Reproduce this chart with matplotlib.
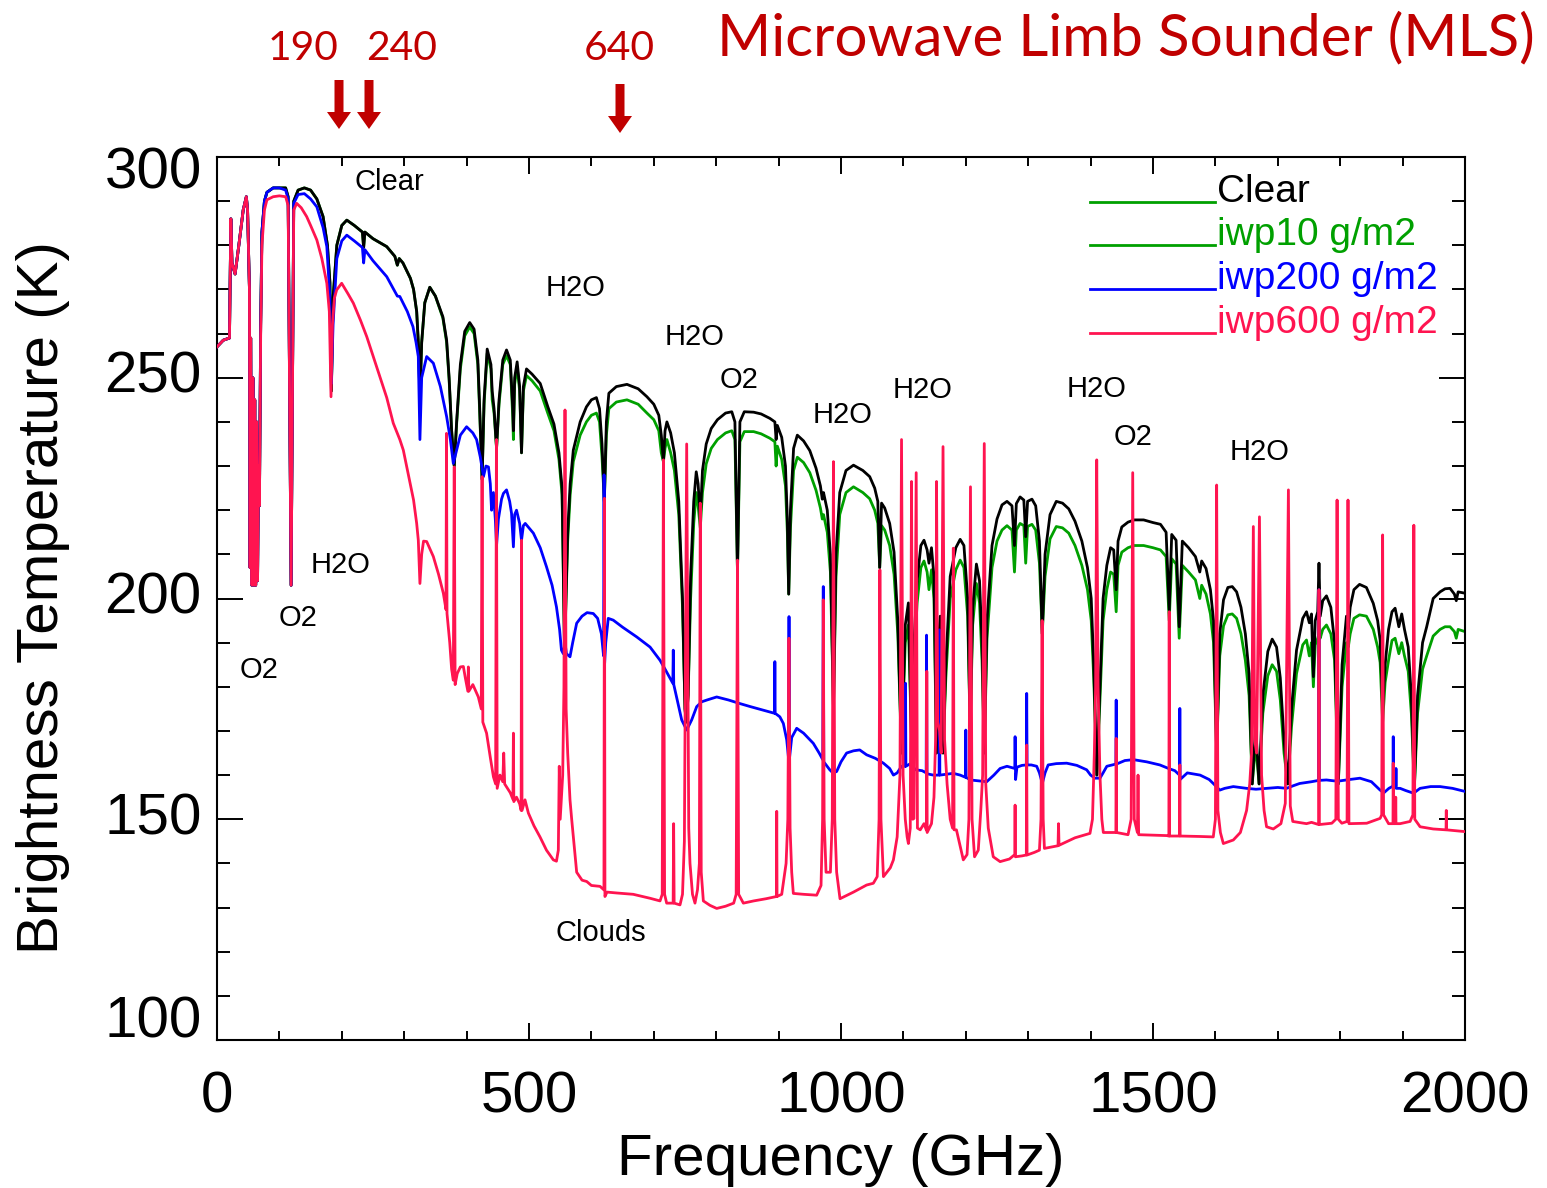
import matplotlib
matplotlib.use("Agg")
import matplotlib.pyplot as plt
from matplotlib.patches import FancyArrow
from matplotlib.transforms import IdentityTransform
from matplotlib.ticker import MultipleLocator

plt.rcParams['font.family'] = ['Liberation Sans', 'DejaVu Sans']

# ---------------- data ----------------
f_clear = [
    0, 10, 20, 22.2, 24, 29, 35, 42, 47, 49,
    52, 53, 54, 56, 57.5, 59, 60.5, 62, 63.5, 65,
    66.5, 68, 70, 72, 76, 80, 90, 100, 110, 114,
    118.75, 123, 130, 140, 150, 160, 170, 177, 181, 183.3,
    186, 192, 200, 208, 220, 233, 235, 237, 250, 272,
    285, 289, 292, 298, 310, 315, 320, 323, 325.2, 328,
    333, 341, 350, 362, 368, 372, 376, 380.2, 384, 390,
    397, 405, 412, 418, 421, 424.8, 428, 433, 439, 441,
    444, 448, 452, 458, 464, 470, 474, 475, 477, 481,
    485, 488, 491, 496, 505, 518, 530, 540, 548, 553,
    557, 562, 566, 571, 582, 592, 600, 608, 613, 617,
    620.7, 624, 628, 640, 657, 675, 689, 700, 708, 712,
    715.4, 718, 721, 727, 733, 740, 746, 750, 752, 755,
    759, 764, 768, 771, 774.5, 778, 784, 792, 802, 815,
    825, 830, 834.1, 838, 845, 860, 872, 886, 894, 896,
    898, 905, 911, 914, 916.2, 919, 924, 930, 940, 950,
    960, 967, 970, 972, 978, 983, 987.9, 992, 998, 1008,
    1020, 1035, 1046, 1054, 1059, 1062, 1065, 1070, 1078, 1085,
    1091, 1097, 1103, 1108, 1113, 1117, 1122, 1128, 1133, 1138,
    1141, 1145, 1149, 1153, 1156, 1159, 1161, 1163.5, 1168, 1175,
    1184, 1191, 1197, 1203, 1207, 1211, 1217, 1222, 1226, 1229.6,
    1234, 1242, 1250, 1258, 1266, 1274, 1278, 1281, 1287, 1293,
    1296, 1299, 1306, 1312, 1318, 1322.5, 1327, 1335, 1345, 1355,
    1365, 1375, 1386, 1395, 1401, 1405, 1410, 1415, 1420, 1426,
    1432, 1437, 1441, 1444, 1450, 1460, 1470, 1485, 1500, 1512,
    1521, 1526, 1530, 1537, 1542, 1547, 1557, 1568, 1575, 1578,
    1585, 1592, 1597, 1602, 1607, 1613, 1620, 1627, 1634, 1641,
    1648, 1654, 1659, 1664.5, 1670, 1676, 1684, 1691, 1698, 1704,
    1710, 1716, 1722, 1730, 1740, 1746, 1750.5, 1754, 1757, 1760,
    1764, 1766, 1768, 1772, 1778, 1785, 1791, 1797, 1803, 1810,
    1813, 1816, 1822, 1831, 1842, 1853, 1860, 1864, 1868, 1872,
    1877.5, 1883, 1888, 1894, 1898.6, 1903, 1909, 1914, 1918.8, 1924,
    1932, 1938.6, 1949, 1960, 1968, 1976, 1983, 1986, 1989, 2000,
]
t_clear = [
    257, 258.5, 259, 286, 276, 273.5, 280, 288, 291, 288,
    270, 207, 259, 203, 250, 203, 245, 203, 240, 204,
    230, 221, 262, 283, 290, 292, 293, 293, 293, 291,
    203, 290, 292.5, 293, 292.5, 290.5, 286.5, 280, 271.5, 247,
    268, 280, 284.5, 285.7, 284.5, 283, 279.5, 283, 281.5, 279.7,
    277.5, 275.5, 277, 276, 272.5, 270, 265, 257, 245, 258,
    267, 270.5, 268.5, 263.8, 258.5, 250, 238, 230, 240, 253,
    260.5, 262.5, 261, 254, 243, 227, 245, 256.5, 253, 247,
    243, 234, 245, 254, 256.3, 254, 243, 238, 250, 253.6,
    248, 233, 248, 252, 250.8, 248.7, 243.5, 239.5, 233, 225,
    188, 215, 226, 233.6, 240, 243.4, 245, 245.5, 243, 235,
    222, 240, 246.5, 248, 248.5, 247.5, 245.7, 244, 241.5, 237,
    231, 238, 240, 237.5, 233, 222, 200, 175, 172, 178,
    205, 222, 228.7, 226, 218, 229, 235, 238.5, 240.5, 242,
    242.3, 240, 206, 240, 242.3, 242.2, 241.8, 240.8, 240, 236,
    239.2, 236.5, 230, 218, 201, 220, 234, 237, 235.7, 233.5,
    229.5, 225.5, 222.5, 224, 220, 210, 175, 210, 224, 229,
    230.2, 229, 227.6, 225, 222, 207, 221.6, 220.5, 217, 210.5,
    195, 165, 194, 199, 168, 190, 204, 212, 213.2, 211,
    208, 211.5, 205, 165, 190, 196, 190, 165, 185, 205,
    211.5, 213.4, 212, 200, 170, 198, 207.8, 204, 190, 165,
    195, 212, 218, 221.2, 222, 221, 212, 221.5, 223, 222.3,
    214, 222, 222.5, 221, 213, 192, 210, 219, 222, 221.6,
    220.3, 217.5, 213, 207, 200, 185, 160, 180, 200, 207.5,
    211.5, 211, 202, 213, 216.2, 217.3, 217.8, 217.8, 217.2, 216.8,
    215, 197.4, 214.5, 213.2, 193.6, 213, 211.5, 209.5, 206, 208.5,
    206.8, 202, 195, 165, 192, 199.7, 202.5, 202.7, 201.5, 198,
    192, 183, 158, 171, 158, 178, 188, 190.8, 189, 182,
    168, 158, 175, 188.3, 195.5, 197, 194.5, 196.5, 182.3, 195,
    197, 208, 196, 199.5, 200.6, 198, 190, 158, 185, 196,
    193, 198, 202, 203.2, 202.5, 198.9, 195, 190.6, 175, 185,
    193, 197, 197.8, 193.6, 196.5, 193, 189, 178, 157, 178,
    190, 193.6, 200, 201.5, 202.2, 202.3, 201, 199.5, 201.5, 201.2,
]
t_iwp10 = [
    257, 258.5, 259, 286, 276, 273.5, 280, 288, 291, 288,
    270, 207, 259, 203, 250, 203, 245, 203, 240, 204,
    230, 221, 262, 283, 290, 292, 293, 293, 293, 291,
    203, 290, 292.5, 293, 292.5, 290.5, 286.5, 280, 271.5, 247,
    268, 280, 284.5, 285.7, 284.5, 283, 279.5, 283, 281.5, 279.7,
    277.5, 275.5, 277, 276, 272.5, 270, 265, 257, 245, 258,
    267, 270.5, 268.5, 263.5, 258, 249.5, 238, 230, 239.5, 252,
    259.5, 261.5, 260, 253, 242, 227, 244, 255.5, 252, 245,
    242, 234, 244, 253, 255, 253, 241, 236, 248.5, 252.5,
    247, 233, 247, 250.5, 249.3, 247, 242, 238, 231.5, 223.5,
    188, 213, 223.5, 231, 237, 240, 241.5, 242, 240, 232,
    222, 237, 243, 244.5, 245, 244, 242, 240.5, 238, 233,
    231, 234, 236, 233, 229, 219, 198, 175, 172, 178,
    200, 217, 224, 221, 216, 224, 230.5, 234, 236, 237.5,
    238, 236, 206, 235.5, 237.8, 237.8, 237.3, 236.3, 235.5, 230,
    234.5, 231.5, 225.5, 215, 201, 216, 229, 232, 230.8, 228.5,
    224.5, 220.5, 218, 219, 215, 206, 175, 205, 219, 224,
    225.3, 224, 222.6, 220, 217, 207, 216.5, 215.5, 212, 205.5,
    192, 165, 190, 194, 168, 186, 199, 207, 208.5, 206,
    202, 206.5, 200, 165, 187, 192, 187, 165, 182, 200,
    206.5, 208.7, 207, 196, 170, 194, 203.4, 199, 186, 165,
    191, 207, 213, 215.5, 216.5, 215.5, 206, 215.5, 217, 216.5,
    208, 216.3, 216.8, 215.5, 208, 192, 205, 213.5, 216.3, 216,
    214.8, 212, 207.5, 202, 195, 182, 160, 177, 195, 202,
    206, 205.5, 197, 207.5, 210.5, 211.5, 212, 212, 211.5, 211,
    209.5, 195, 209, 207.8, 191, 207.5, 206, 204.2, 200, 203,
    201, 196.5, 190, 165, 187, 193.8, 196.3, 196.5, 195.5, 192,
    186, 178, 158, 167, 158, 174, 182.5, 185, 183.5, 177,
    165, 158, 171, 183, 189.5, 190.6, 187, 190, 180, 189.5,
    191, 192, 191, 193, 194, 192, 186, 158, 180, 190,
    189, 192, 195.5, 196.3, 196, 193, 189, 185.5, 172, 181,
    186, 190.5, 191, 187.5, 190, 187, 183.5, 174, 157, 174,
    184, 187, 191.5, 193, 193.6, 193.6, 192.5, 191, 193, 192.5,
]

f_iwp200 = [
    0, 10, 20, 22.2, 24, 29, 35, 42, 47, 49,
    52, 53, 54, 56, 57.5, 59, 60.5, 62, 63.5, 65,
    66.5, 68, 70, 72, 76, 80, 90, 100, 110, 114,
    118.75, 123, 130, 140, 150, 160, 170, 176, 181, 183.3,
    186, 192, 200, 208, 220, 233, 235, 237, 250, 272,
    289, 293, 305, 314, 319, 322.6, 325.2, 328, 336, 346.7,
    358, 368, 374, 378.7, 383, 390, 400, 410, 416, 422,
    427, 431, 435, 438, 440, 443, 446, 448, 451, 456,
    459, 464, 469, 472, 475, 477, 480, 485, 488, 491,
    494, 500, 507, 518, 528, 537, 544, 549, 552, 555,
    557.7, 560, 565.7, 570, 576.4, 585, 593, 603, 610, 616,
    619.5, 620.3, 621.2, 623, 627, 635, 650, 672.6, 694, 710,
    720, 730.5, 731.2, 732, 740, 744.7, 752.7, 760.7, 768.7, 776.7,
    785, 800.8, 820, 838, 855, 875.5, 893.5, 894, 894.5, 902,
    907.6, 913, 915.8, 916.7, 917.6, 921, 929, 940, 955.6, 965,
    970.8, 971.6, 972.4, 982, 987, 993, 1000, 1009, 1020, 1030,
    1041, 1055, 1068, 1078, 1084, 1090, 1097, 1102.8, 1103.4, 1104,
    1110, 1120, 1130, 1136.5, 1137.1, 1137.7, 1148, 1157.2, 1157.8, 1158.4,
    1169, 1180, 1191, 1199.5, 1200, 1200.5, 1207, 1220, 1233.5, 1245,
    1255, 1266, 1278.5, 1279, 1279.8, 1282, 1290, 1297, 1297.6, 1298.2,
    1305, 1313.6, 1318, 1322.6, 1327, 1332, 1345, 1361.7, 1378, 1393.7,
    1400, 1407, 1415, 1420, 1426, 1440.5, 1441, 1441.5, 1455, 1468.6,
    1490, 1511, 1525, 1535, 1542.5, 1543, 1543.5, 1555, 1575.5, 1590,
    1596.6, 1607, 1615, 1628.7, 1650, 1665, 1682, 1700, 1714, 1725,
    1735, 1754, 1765.5, 1766, 1766.5, 1778, 1790, 1800, 1815, 1831.7,
    1850, 1864, 1870, 1878, 1884.6, 1885, 1885.4, 1889, 1889.4, 1889.8,
    1896, 1905, 1917.5, 1928, 1945, 1960, 1980, 2000,
]
t_iwp200 = [
    257, 258.5, 259, 286, 276, 273.5, 280, 288, 291, 288,
    270, 207, 259, 203, 250, 203, 245, 203, 240, 204,
    230, 221, 262, 283, 290, 292, 293, 293, 292.5, 290.5,
    203, 289.5, 291.5, 291.7, 290.5, 288.7, 284, 279.7, 268, 248.7,
    262, 277, 281, 282.3, 281, 279.5, 276, 279, 276.5, 272.9,
    268.5, 268.4, 265, 261.6, 258, 254.8, 236, 250, 254.8, 253.3,
    248, 241.2, 236, 230.6, 233, 237, 238.9, 237.5, 236, 232,
    227.6, 230, 229.8, 226, 220, 224, 218, 212, 218, 222.5,
    223.8, 224.6, 222, 219.3, 211.7, 219, 220, 217, 213.2, 216.5,
    217, 216, 214.8, 211.5, 207.2, 203, 198.1, 193, 188.3, 187.5,
    190, 187.5, 186.8, 190, 194.4, 196, 196.8, 196.6, 195.5, 192,
    187, 228, 185.3, 190, 195.5, 195.1, 193.5, 191.3, 189, 186,
    183.5, 180.8, 188.3, 180.5, 175.5, 172.5, 170.2, 172.5, 175.5, 176.6,
    177, 177.7, 177, 176.2, 175.5, 174.7, 174, 185.7, 174, 173.2,
    171.7, 168, 164, 195.9, 164, 168.5, 170.6, 169.5, 167.2, 165,
    163.5, 202.7, 163, 161.2, 160.5, 160.8, 163, 165, 165.5, 165.7,
    164.6, 163.8, 162.7, 161.5, 160, 160.5, 162, 162, 180.8, 162,
    162.5, 161.2, 161, 160.5, 191.7, 160.3, 160, 160, 192.9, 160,
    160.2, 160.4, 160, 159.5, 170.2, 159.5, 158.9, 158.7, 158.5, 160,
    161.5, 162, 161.5, 168.7, 159, 161.8, 162.2, 162.3, 178.5, 162.3,
    162.3, 162, 160.5, 158.1, 160.5, 162.3, 162.6, 162.7, 162.2, 161.2,
    160, 159.3, 159.3, 160.5, 162, 162.5, 177, 162.5, 163.3, 163.5,
    163, 162.3, 161.5, 161, 160, 175.1, 159, 160.5, 160, 159,
    158.1, 156.6, 157, 157.4, 157, 156.8, 157, 157.2, 157, 157.6,
    158.1, 158.5, 158.8, 202, 158.8, 158.9, 158.7, 158.7, 159, 159.3,
    158.5, 156.6, 156, 157, 157.5, 168.7, 157.2, 157.5, 161.5, 157,
    157, 156.5, 155.9, 157, 157.4, 157.4, 157, 156.3,
]

f_iwp600 = [
    0, 10, 20, 22.2, 24, 29, 35, 42, 47, 49,
    52, 53, 54, 56, 57.5, 59, 60.5, 62, 63.5, 65,
    66.5, 68, 70, 72, 76, 80, 90, 100, 110, 114,
    118.75, 123, 127.7, 135, 143.7, 150, 160, 168, 176, 180,
    182.7, 185, 188, 191.8, 199.8, 210, 218.5, 230, 240, 250,
    261, 272, 282.5, 293, 298.6, 306, 315, 320, 322.6, 325.2,
    328, 331, 336, 346.7, 355, 362.7, 367, 367.8, 368.6, 373,
    376, 378.7, 380.2, 381.6, 385, 390, 394.8, 398, 402, 402.8,
    403.6, 410, 418.8, 423.5, 424.8, 426, 432, 438, 443, 446.5,
    447.8, 449, 453.5, 458, 459.5, 461, 470, 474.3, 475, 475.7,
    480, 485, 487.4, 488.1, 488.8, 493.6, 499, 508, 517.6, 528,
    539, 544, 547, 548.5, 550, 554, 556, 557.7, 559.5, 562,
    565.7, 568.4, 576.4, 585, 592.5, 600, 613.8, 620.1, 620.9, 621.7,
    625, 640.5, 667, 694, 710, 713.5, 715.4, 717.3, 720.6, 731,
    731.8, 732.6, 742, 746, 749, 752.7, 756, 758, 762, 766,
    770, 773, 774.5, 776, 779.4, 790, 800.8, 815, 828, 832,
    834.1, 836, 843.5, 860, 880, 896.5, 897, 897.5, 905, 912,
    914.8, 916.6, 918.4, 921, 923.6, 940, 961, 968, 970.5, 971.6,
    973, 976, 983, 986, 987.9, 990, 993, 998.4, 1020, 1041,
    1051.8, 1058, 1061, 1062.3, 1064, 1068, 1079, 1084, 1090, 1094.5,
    1097, 1099.5, 1103, 1106, 1108, 1111, 1113, 1115, 1117, 1120.5,
    1122.5, 1127, 1133, 1136.9, 1137.5, 1138.1, 1145, 1149, 1152, 1153.1,
    1155, 1158, 1160.5, 1163.5, 1166, 1170, 1175, 1178.8, 1180, 1181.2,
    1185, 1196, 1202, 1205, 1207.5, 1210, 1214, 1220, 1224, 1227,
    1229.6, 1232, 1236, 1244, 1255, 1270, 1278.5, 1279, 1279.5, 1290,
    1297, 1297.6, 1298.2, 1310, 1318, 1320.5, 1322.3, 1324, 1326, 1347.8,
    1348.6, 1349.4, 1375, 1399, 1403, 1406, 1408, 1409.8, 1412, 1415,
    1418, 1420.4, 1440.5, 1441, 1441.5, 1460, 1465, 1467.5, 1470, 1475,
    1476, 1477, 1500, 1522, 1525.4, 1526, 1526.6, 1542.5, 1543, 1543.5,
    1575, 1596.6, 1600, 1602, 1604, 1608, 1612.7, 1628.7, 1640, 1650,
    1655, 1658, 1660.8, 1663, 1666, 1670.6, 1674, 1678, 1682, 1692.8,
    1705, 1712, 1717, 1720, 1724, 1746, 1754, 1765.4, 1766, 1766.6,
    1786.6, 1793, 1795, 1797, 1802.6, 1811, 1812.5, 1814, 1842.5, 1864,
    1866.5, 1868, 1869.5, 1877.5, 1884.6, 1885, 1885.4, 1888.6, 1889, 1889.4,
    1896, 1912, 1916.5, 1918, 1919.5, 1928, 1949, 1969.6, 1970, 1970.4,
    2000,
]
t_iwp600 = [
    257, 258.5, 259, 286, 276, 273.5, 280, 288, 291, 288,
    270, 207, 259, 203, 250, 203, 245, 203, 240, 204,
    230, 221, 260, 280, 288, 290.3, 291, 291.2, 291, 289,
    203, 288, 289.5, 288.5, 286.5, 284.5, 281.2, 277, 271.4, 265,
    245.7, 262, 268, 269.9, 271.4, 269, 266.9, 263, 259.3, 255,
    250.2, 245.5, 239.7, 236, 233.6, 228.5, 222.3, 217, 213.2, 203.4,
    210, 213, 212.9, 209.5, 205.5, 201.2, 197.5, 237.4, 196.6, 190,
    184, 181.5, 229.8, 180.5, 183, 184.5, 184.6, 182, 179, 184.5,
    179, 180.5, 177.7, 175, 227.6, 172, 169.5, 164, 159.6, 158,
    236, 157, 160, 158.5, 165, 158, 156, 154.5, 169.5, 154,
    155, 153.5, 152, 213.2, 152, 154.4, 151.4, 148.5, 146, 143,
    140.8, 140.5, 143, 162, 150, 160, 180, 242.7, 175, 165,
    154.4, 150, 138, 136.2, 135.9, 135, 134.8, 134, 222.7, 132.5,
    133.5, 133.3, 133, 132.1, 131.5, 133, 231.4, 133, 131, 131,
    149, 131, 130.6, 133, 145, 235, 148, 140, 133, 131,
    134, 140, 221.6, 138, 131.5, 130.5, 129.8, 130.3, 131, 133,
    208.7, 133, 131, 131.5, 132, 132.5, 151.8, 132.5, 133, 140,
    150, 191, 148, 138, 133.2, 133, 132.8, 135, 150, 199.7,
    150, 138, 138, 150, 231, 150, 138, 132, 133.5, 135.1,
    135.5, 137, 150, 206.5, 150, 137, 139, 140.8, 146, 160,
    236, 160, 150, 146, 144.5, 148, 226.5, 150, 150.2, 228.5,
    148, 147.6, 149, 147.5, 183.5, 147, 149, 155, 170, 226.5,
    172, 170, 165, 234.4, 168, 158, 150, 148, 211.4, 147.6,
    147.6, 140.8, 142, 150, 225.3, 150, 141.5, 143, 152, 160,
    235.1, 158, 148, 141.5, 140.4, 141, 142, 153.2, 141.5, 141.7,
    141.9, 166.8, 141.9, 142.5, 143, 150, 195, 150, 143.4, 144,
    149, 144.1, 145.8, 146.8, 150, 165, 180, 231.4, 180, 160,
    150, 147, 147, 168.3, 147, 146.5, 150, 228.5, 150, 147,
    160, 146.5, 146.4, 146.3, 146.2, 197, 146.2, 146.2, 162.3, 146.2,
    146.1, 146, 150, 225.7, 152, 147, 144.5, 145.3, 147, 152,
    158, 165, 216.3, 168, 165, 218.5, 160, 152, 148.3, 147.8,
    149, 153.6, 224.6, 153, 149.5, 149, 149.3, 148.8, 202, 148.8,
    149.1, 150, 222.3, 150, 149.1, 149.5, 222.3, 149, 149.1, 150.2,
    151, 214.4, 151, 149, 149, 162.7, 149, 149, 155, 149,
    149, 149.5, 151, 216.6, 150, 148.3, 147.8, 147.6, 152, 147.6,
    147.2,
]

series_labels = ['Clear', 'iwp10 g/m2', 'iwp200 g/m2', 'iwp600 g/m2']
x_ticks = [0, 500, 1000, 1500, 2000]
y_ticks = [100, 150, 200, 250, 300]

# spectral-line annotations: (text, frequency, temperature)
line_notes = [
    ('Clear', 277, 294.3), ('H2O', 574, 270.3), ('H2O', 766, 259.2),
    ('O2', 836.5, 249.5), ('H2O', 1003, 241.6), ('H2O', 1130, 247.2),
    ('H2O', 1410, 247.5), ('O2', 1468, 236.6), ('H2O', 1671.5, 233.2),
    ('H2O', 198.7, 207.6), ('O2', 130, 195.6), ('O2', 67.3, 183.8),
    ('Clouds', 615.4, 124.2),
]
band_labels = ['190', '240', '640']

assert len(f_clear) == len(t_clear) == len(t_iwp10)
assert len(f_iwp200) == len(t_iwp200)
assert len(f_iwp600) == len(t_iwp600)

# ---------------- styling ----------------
W, H, DPI = 1547, 1188, 100
BLACK = '#000000'
GREEN = '#00A000'
BLUE = '#0000FF'
RED = '#FF1450'
DARKRED = '#C00000'
LW = 2.0

fig = plt.figure(figsize=(W / DPI, H / DPI), dpi=DPI)
ax = fig.add_axes([217 / W, 1 - 1040 / H, (1465 - 217) / W, (1040 - 157) / H])

ax.plot(f_clear, t_iwp10, color=GREEN, lw=LW, zorder=2)
ax.plot(f_clear, t_clear, color=BLACK, lw=LW, zorder=3)
ax.plot(f_iwp200, t_iwp200, color=BLUE, lw=LW, zorder=4)
ax.plot(f_iwp600, t_iwp600, color=RED, lw=LW, zorder=5)

ax.set_xlim(0, 2000)
ax.set_ylim(100, 300)

for sp in ax.spines.values():
    sp.set_linewidth(1.5)

ax.xaxis.set_minor_locator(MultipleLocator(100))
ax.yaxis.set_minor_locator(MultipleLocator(10))
ax.set_xticks(x_ticks)
ax.set_xticklabels([str(v) for v in x_ticks])
ax.set_yticks(y_ticks)
ax.set_yticklabels([])
ax.tick_params(axis='x', which='major', direction='in', top=True, bottom=True,
               length=12, width=1.4, labelsize=42, pad=22)
ax.tick_params(axis='x', which='minor', direction='in', top=True, bottom=True,
               length=6.5, width=1.4)
ax.tick_params(axis='y', which='major', direction='in', left=True, right=True,
               length=19, width=1.4)
ax.tick_params(axis='y', which='minor', direction='in', left=True, right=True,
               length=9.5, width=1.4)

# y tick labels (IDL style: end labels pulled inside the axis range)
y_offsets = {100: 12.5, 300: -12.0}
for v in y_ticks:
    ax.annotate(str(v), xy=(0, v), xycoords=('axes fraction', 'data'),
                xytext=(-11, y_offsets.get(v, 0)), textcoords='offset points',
                ha='right', va='center', fontsize=42)

# axis titles
fig.text(841 / W, (H - 1175) / H, 'Frequency (GHz)', fontsize=42,
         ha='center', va='baseline')
fig.text(58 / W, (H - 597.5) / H, 'Brightness Temperature (K)', fontsize=42,
         rotation=90, rotation_mode='anchor', ha='center', va='baseline')

for txt, fx, ty in line_notes:
    ax.text(fx, ty, txt, fontsize=21, ha='center', va='center', zorder=6)

# legend (IDL style: line then label)
leg_colors = [GREEN, GREEN, BLUE, RED]
txt_colors = [BLACK, GREEN, BLUE, RED]
leg_y = [202, 245, 289, 333]
x0 = (1090 - 217) / 1248
x1 = (1215 - 217) / 1248
for lab, lc, tc, py in zip(series_labels, leg_colors, txt_colors, leg_y):
    yy = (1040 - py) / 883
    ax.plot([x0, x1], [yy, yy], transform=ax.transAxes, color=lc, lw=LW,
            clip_on=False, zorder=7)
    ax.text(x1 + 0.0015, yy, lab, transform=ax.transAxes, color=tc,
            fontsize=28, ha='left', va='baseline', zorder=7)

# title and band markers
renderer = fig.canvas.get_renderer()
title = fig.text(717 / W, (H - 55) / H, 'Microwave Limb Sounder (MLS)',
                 fontsize=48, family=['Lato', 'DejaVu Sans'], color=DARKRED,
                 ha='left', va='baseline')
wt = title.get_window_extent(renderer).width
title.set_fontsize(48 * 818 / wt)

band_x = [303, 402, 619]
for lab, bx in zip(band_labels, band_x):
    t = fig.text(bx / W, (H - 60) / H, lab, fontsize=30,
                 family=['Lato', 'DejaVu Sans'], color=DARKRED,
                 ha='center', va='baseline')
    wb = t.get_window_extent(renderer).width
    t.set_fontsize(30 * 71 / wb)

arrow_x = [339, 369, 620]
arrow_top = [80, 80, 84]
for axp, top in zip(arrow_x, arrow_top):
    arr = FancyArrow(axp, H - top, 0, -49, width=9, head_width=24,
                     head_length=17, length_includes_head=True,
                     transform=IdentityTransform(), color=DARKRED, lw=0)
    fig.add_artist(arr)

fig.savefig('out.png', dpi=DPI)
